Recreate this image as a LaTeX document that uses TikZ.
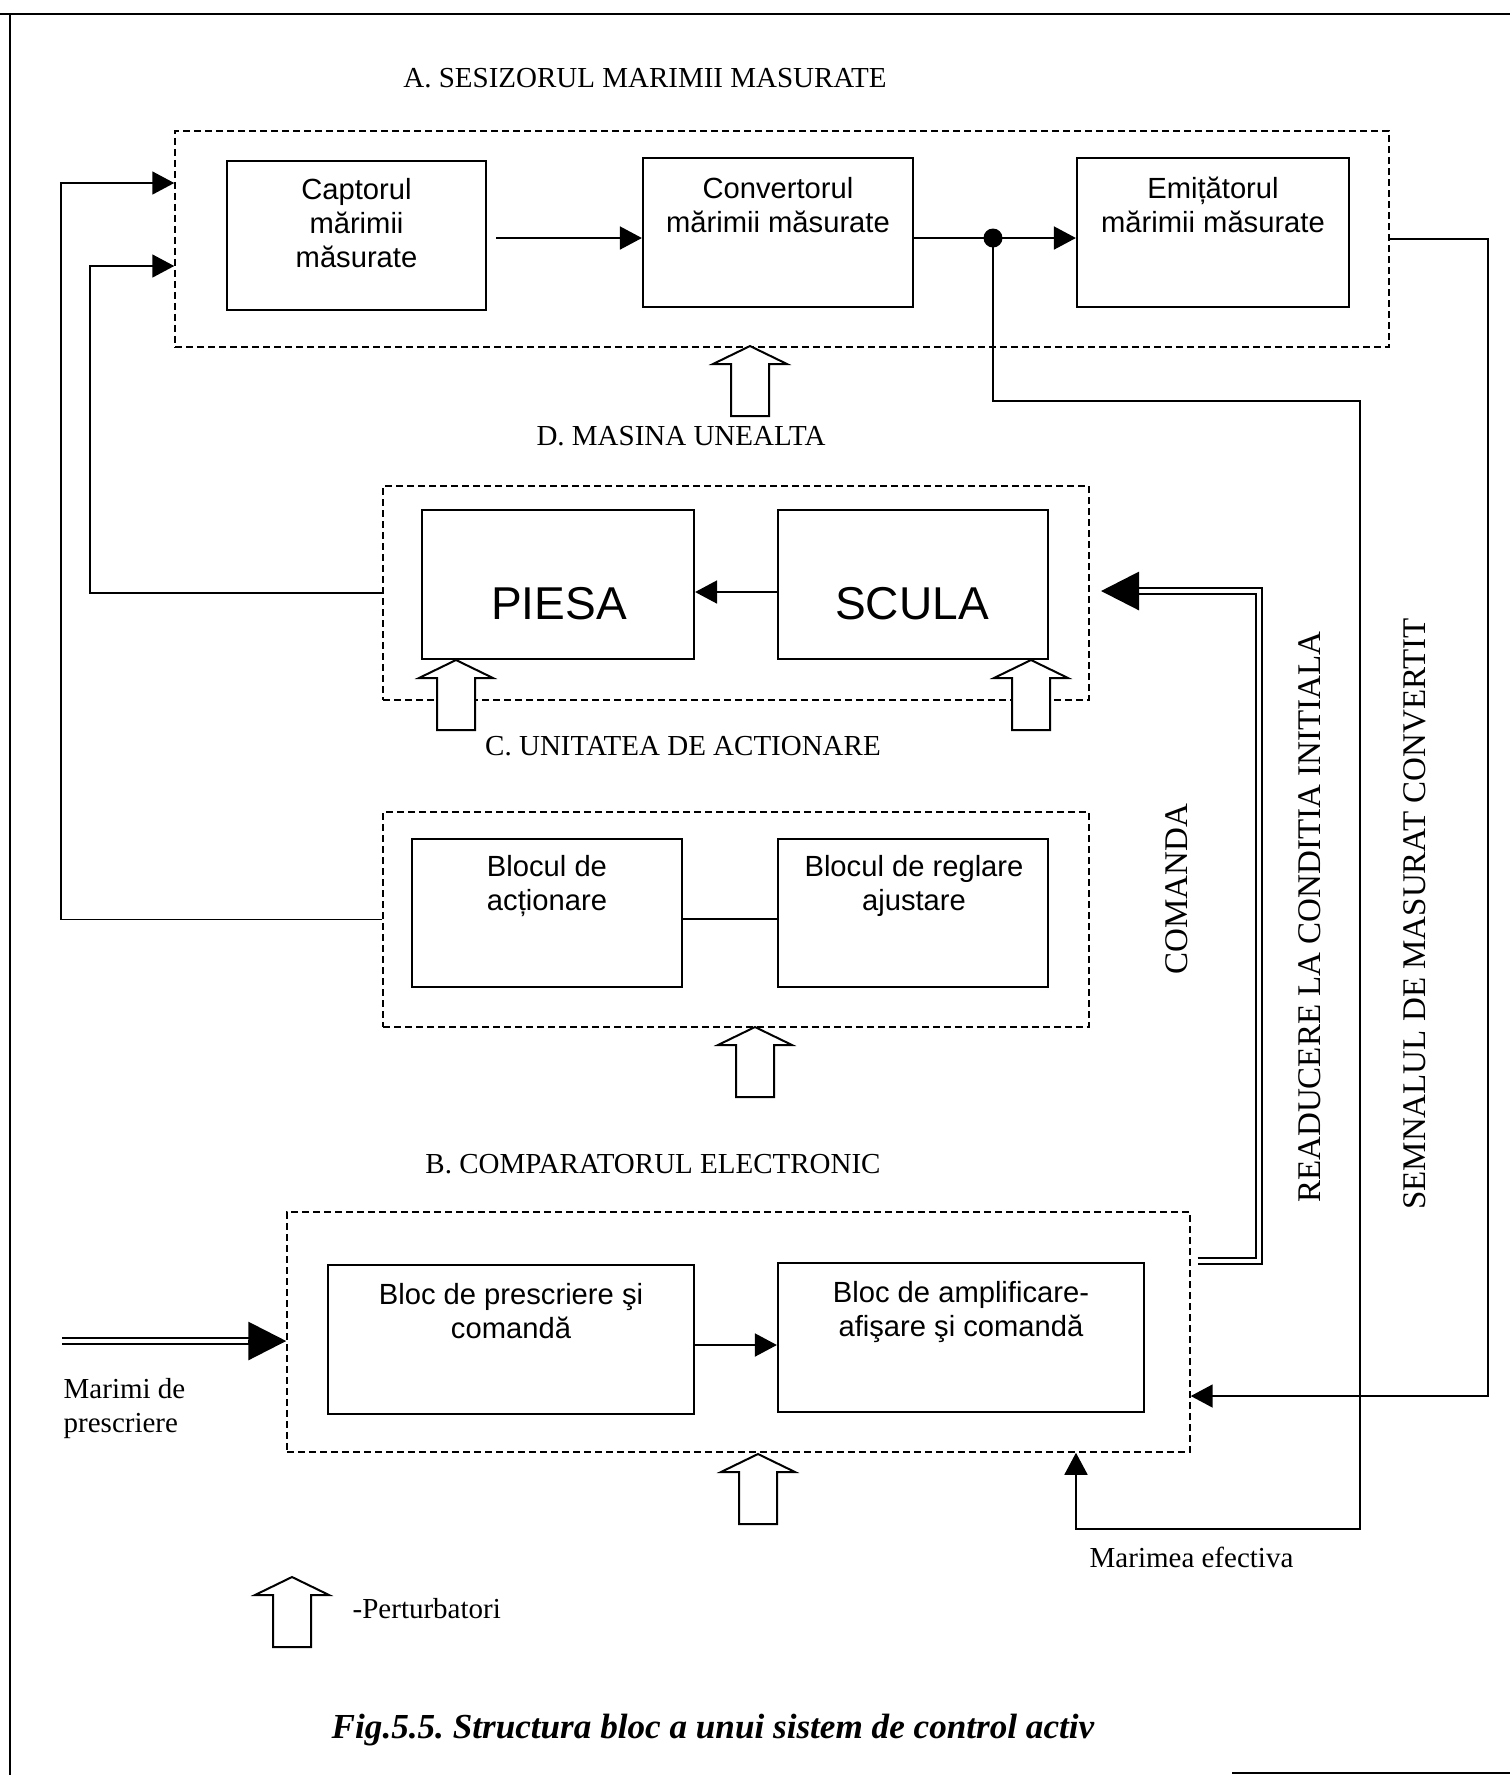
\documentclass[tikz,border=0pt]{standalone}
\usepackage{fontspec}
\setmainfont{Liberation Serif}
\setsansfont{Liberation Sans}
\usetikzlibrary{arrows.meta}
\frenchspacing
\begin{document}
\begin{tikzpicture}[x=0.1mm,y=-0.1mm,
  blk/.style={draw, line width=0.22mm, inner sep=0pt},
  grp/.style={draw, line width=0.15mm, dash pattern=on 0.7mm off 0.4mm, inner sep=0pt},
  btxt/.style={font=\sffamily\fontsize{8.3}{9.7}\selectfont, align=center, inner sep=0pt},
  bigtxt/.style={font=\sffamily\fontsize{13.1}{15}\selectfont, inner sep=0pt},
  lbl/.style={font=\rmfamily\fontsize{8.25}{9.7}\selectfont, inner sep=0pt},
  vlbl/.style={font=\rmfamily\fontsize{9.4}{11}\selectfont, inner sep=0pt, rotate=90},
  conn/.style={line width=0.18mm},
  arr/.style={conn, -{Triangle[length=2.2mm,width=2.3mm]}},
  dbl/.style={draw, line width=0.2mm, double, double distance=0.4mm},
  bigtip/.style={line width=0.3mm, -{Triangle[length=3.8mm,width=3.8mm]}},
  pert/.pic={\draw[line width=0.2mm, fill=white, line join=miter]
    (0,0) -- (37,18) -- (19,18) -- (19,70) -- (-19,70) -- (-19,18) -- (-37,18) -- cycle;}]

\useasboundingbox (0,0) rectangle (1510,1775);

% page frame
\draw[line width=0.2mm] (0,14) -- (1510,14);
\draw[line width=0.2mm] (10,14) -- (10,1775);
\draw[line width=0.2mm] (1232,1773) -- (1510,1773);

% ---- A. measuring sensor
\node[lbl, anchor=base] (tA) at (645,87) {A. SESIZORUL MARIMII MASURATE};
\node[grp, minimum width=121.4mm, minimum height=21.6mm] (Abox) at (782,239) {};
\node[blk, minimum width=25.9mm, minimum height=14.9mm] (capt) at (356.5,235.5) {};
\node[btxt] (captT) at (356.5,223) {Captorul\\mărimii\\măsurate};
\node[blk, minimum width=27mm, minimum height=14.9mm] (conv) at (778,232.5) {};
\node[btxt] (convT) at (778,205) {Convertorul\\mărimii măsurate};
\node[blk, minimum width=27.2mm, minimum height=14.9mm] (emit) at (1213,232.5) {};
\node[btxt] (emitT) at (1213,205) {Emițătorul\\mărimii măsurate};

\coordinate (j) at (993,238);
\draw[arr] ([xshift=0.9mm]capt.east |- j) -- (conv.west |- j);
\draw[conn] (conv.east |- j) -- (j);
\draw[arr] (j) -- (emit.west |- j);
\fill (j) circle (0.95mm);

\pic at (750,346) {pert};

% ---- D. machine tool
\node[lbl, anchor=base] (tD) at (681,445) {D. MASINA UNEALTA};
\node[grp, minimum width=70.6mm, minimum height=21.4mm] (Dbox) at (736,593) {};
\node[blk, minimum width=27.2mm, minimum height=14.9mm] (piesa) at (558,584.5) {};
\node[bigtxt] (piesaT) at (559,604) {PIESA};
\node[blk, minimum width=27mm, minimum height=14.9mm] (scula) at (913,584.5) {};
\node[bigtxt] (sculaT) at (912,604) {SCULA};
\draw[arr] ([yshift=-0.75mm]scula.west) -- ([yshift=-0.75mm]piesa.east);
\pic at (456,660) {pert};
\pic at (1031,660) {pert};

% ---- C. actuating unit
\node[lbl, anchor=base] (tC) at (683,755) {C. UNITATEA DE ACTIONARE};
\node[grp, minimum width=70.6mm, minimum height=21.5mm] (Cbox) at (736,919.5) {};
\node[blk, minimum width=27mm, minimum height=14.8mm] (bact) at (547,913) {};
\node[btxt] (bactT) at (547,886) {Blocul de\\acționare};
\node[blk, minimum width=27mm, minimum height=14.8mm] (breg) at (913,913) {};
\node[btxt] (bregT) at (914,886) {Blocul de reglare\\ajustare};
\draw[conn] ([yshift=-0.6mm]bact.east) -- ([yshift=-0.6mm]breg.west);
\pic at (755,1027) {pert};

% ---- B. electronic comparator
\node[lbl, anchor=base] (tB) at (653,1173) {B. COMPARATORUL ELECTRONIC};
\node[grp, minimum width=90.3mm, minimum height=24mm] (Bbox) at (738.5,1332) {};
\node[blk, minimum width=36.6mm, minimum height=14.9mm] (bpre) at (511,1339.5) {};
\node[btxt] (bpreT) at (511,1311) {Bloc de prescriere şi\\comandă};
\node[blk, minimum width=36.6mm, minimum height=14.9mm] (bamp) at (961,1337.5) {};
\node[btxt] (bampT) at (961,1312) {Bloc de amplificare-\\afişare şi comandă};
\draw[arr] ([yshift=-0.55mm]bpre.east) -- (bamp.west |- 0,1345);
\pic at (758,1454) {pert};

% set-point input
\coordinate (in0) at (62,1341);
\draw[dbl] (in0) -- ([xshift=-3.6mm]Bbox.west |- in0);
\draw[bigtip] ([xshift=-3.8mm]Bbox.west |- in0) -- (Bbox.west |- in0);
\node[lbl, anchor=base west] (tin1) at (63,1398) {Marimi de};
\node[lbl, anchor=base west] (tin2) at (63,1432) {prescriere};

% command back to the machine tool
\coordinate (k1) at (1259,1261);
\coordinate (k2) at (1259,591);
\coordinate (kt) at (1101,591);
\draw[dbl] ([xshift=0.7mm]Bbox.east |- k1) -- (k1) -- (k2) -- ([xshift=3.6mm]kt);
\draw[bigtip] ([xshift=3.8mm]kt) -- (kt);

% measured value back to the comparator
\coordinate (c1) at (1360,401);
\coordinate (c2) at (1360,1529);
\coordinate (c3) at (1076,1529);
\draw[arr] (j) |- (c1) -- (c2) -- (c3) -- (c3 |- Bbox.south);
\node[lbl, anchor=base west] (tef) at (1089,1567) {Marimea efectiva};

% converted signal from the emitter
\coordinate (e1) at (1488,239);
\coordinate (e2) at (1488,1396);
\draw[arr] (Abox.east |- e1) -- (e1) -- (e2) -- (Bbox.east |- e2);

% feedback lines into the sensor
\coordinate (l1) at (61,919.5);
\coordinate (l2) at (61,183);
\draw[arr] (Cbox.west) -- (l1) -- (l2) -- (Abox.west |- l2);
\coordinate (m1) at (90,593);
\coordinate (m2) at (90,266);
\draw[arr] (Dbox.west) -- (m1) -- (m2) -- (Abox.west |- m2);

% vertical labels
\node[vlbl] (tcom) at (1177,889) {COMANDA};
\node[vlbl] (tread) at (1310,917) {READUCERE LA CONDITIA INITIALA};
\node[vlbl] (tsem) at (1415,914) {SEMNALUL DE MASURAT CONVERTIT};

% legend
\pic at (292,1577) {pert};
\node[lbl, anchor=base west] (tleg) at (352,1618) {-Perturbatori};

% caption
\node[font=\rmfamily\bfseries\itshape\fontsize{10}{12}\selectfont, anchor=base, inner sep=0pt] (fig) at (713,1738) {Fig.5.5. Structura bloc a unui sistem de control activ};
\end{tikzpicture}
\end{document}
